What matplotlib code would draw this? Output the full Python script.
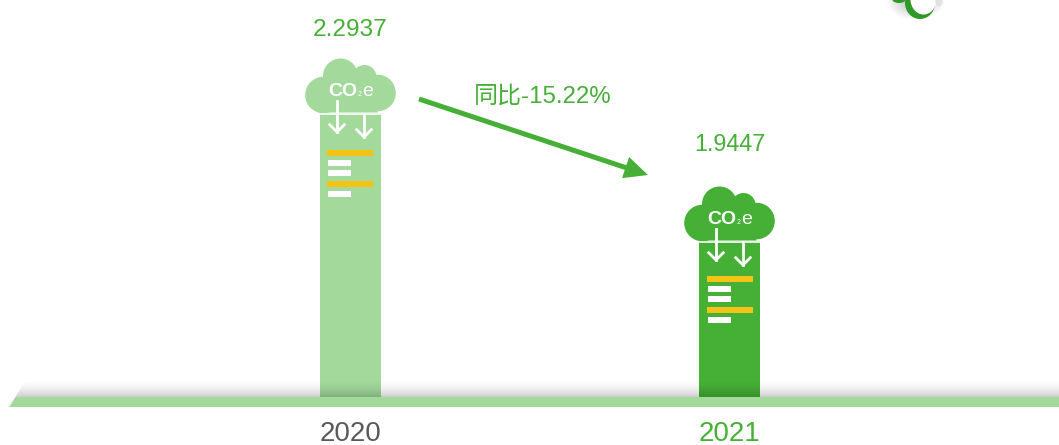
import matplotlib
matplotlib.use('agg')
import matplotlib.pyplot as plt
from matplotlib.patches import Circle, Rectangle, Polygon, Ellipse
import numpy as np

plt.rcParams['font.family'] = ['Liberation Sans', 'Noto Sans CJK SC', 'DejaVu Sans']

years = ['2020', '2021']
values = [2.2937, 1.9447]
change_label = '同比-15.22%'

LIGHT = '#A3D99B'
GREEN = '#45B035'
YELLOW = '#F5C316'
W, H = 1059, 445
BASE_PX = 397
BAR_X = [350.5, 729.5]
PX_PER_UNIT = 366.8
bottom = values[0] - 284 / PX_PER_UNIT
top = bottom + BASE_PX / PX_PER_UNIT

fig = plt.figure(figsize=(W / 100, H / 100), dpi=100)

# pixel coords for all the decoration
deco = fig.add_axes([0, 0, 1, 1], zorder=3)
deco.set_xlim(0, W)
deco.set_ylim(H, 0)
deco.axis('off')

# bars go through a real value axis, truncated like the original
ax = fig.add_axes([0, 1 - BASE_PX / H, 1, BASE_PX / H], zorder=1)
unit = BAR_X[1] - BAR_X[0]
ax.set_xlim(-BAR_X[0] / unit, (W - BAR_X[0]) / unit)
ax.set_ylim(bottom, top)
ax.axis('off')
ax.bar([0, 1], values, bottom=0, width=61 / unit, color=[LIGHT, GREEN])


def cloud(cx, base, color):
    for dx, dy, r in [(-27, -18, 18.3), (-10, -37, 17.5), (14, -36, 12), (27, -20, 18.3)]:
        deco.add_patch(Circle((cx + dx, base + dy), r, fc=color, ec='none'))
    deco.add_patch(Polygon([(cx - 27, base - 0.5), (cx - 27, base - 32), (cx - 10, base - 45),
                            (cx + 13, base - 42), (cx + 27, base - 32), (cx + 27, base - 0.5)],
                           fc=color, ec='none'))
    deco.plot([cx - 30, cx + 30], [base + 0.5, base + 0.5], color='white', lw=1.2)
    for dx, y0, y1, hs in [(-13.5, -12, 19, 7.3), (13.5, 1, 24, 7.3)]:
        deco.plot([cx + dx, cx + dx], [base + y0, base + y1], color='white', lw=2)
        deco.plot([cx + dx - hs, cx + dx, cx + dx + hs], [base + y1 - hs, base + y1, base + y1 - hs],
                  color='white', lw=2)
    deco.text(cx - 7.5, base - 21.5, 'CO', color='white', fontsize=14, fontweight='bold', ha='center', va='center')
    deco.text(cx + 9.5, base - 18.5, '2', color='white', fontsize=5, ha='center', va='center')
    deco.text(cx + 17.5, base - 22, 'e', color='white', fontsize=14, ha='center', va='center')


def stripes(cx, base):
    for y0, y1, x0, x1, c in [(37, 42.7, -23.2, 22.8, YELLOW), (47, 53, -22.5, 0.5, 'white'),
                              (57, 63, -22.5, 0.5, 'white'), (68, 74, -23.2, 22.8, YELLOW),
                              (78, 84, -22.5, 0.5, 'white')]:
        deco.add_patch(Rectangle((cx + x0, base + y0), x1 - x0, y1 - y0, fc=c, ec='none'))


colors = [LIGHT, GREEN]
text_colors = ['#595959', GREEN]
label_y = [30, 144.5]
label_size = [17.6, 16.8]
stripe_shift = [(0, 0), (1, -2)]
for i, (x, v) in enumerate(zip(BAR_X, values)):
    bar_top = BASE_PX - (v - bottom) * PX_PER_UNIT
    cloud(x, bar_top, colors[i])
    stripes(x + stripe_shift[i][0], bar_top + stripe_shift[i][1])
    deco.text(x, label_y[i], str(v), color=GREEN, fontsize=label_size[i], ha='center', va='center')
    deco.text(x, 434, years[i], color=text_colors[i], fontsize=20, ha='center', va='center')

# floor: shadow gradient then the green strip
grad = np.zeros((64, 2, 4))
grad[:, :, 3] = 0.2 * np.linspace(0, 1, 64)[:, None] ** 1.8
im = deco.imshow(grad, extent=(0, W, BASE_PX, 379), aspect='auto', interpolation='bilinear', zorder=2)
clip = Polygon([(15.5, BASE_PX), (26, 379), (W, 379), (W, BASE_PX)], transform=deco.transData, fc='none', ec='none')
deco.add_patch(clip)
im.set_clip_path(clip)
deco.add_patch(Polygon([(9, 407), (15.5, 397), (W, 397), (W, 407)], fc=LIGHT, ec='none', zorder=3))

# trend arrow
deco.annotate('', xy=(648, 175), xytext=(419, 99),
              arrowprops=dict(facecolor=GREEN, edgecolor='none', width=3.6, headwidth=16, headlength=17, shrink=0))
deco.text(543, 97, change_label, color=GREEN, fontsize=17.3, ha='center', va='center')

# clipped leaf at the top right corner
shadow = np.zeros((60, 80, 4))
yy, xx = np.mgrid[0:60, 0:80]
shadow[:, :, 3] = 0.3 * np.clip(1 - np.hypot((xx - 35) / 30.0, (yy - 25) / 20.0), 0, 1)
deco.imshow(shadow, extent=(880, 960, 35, -25), aspect='auto', interpolation='bilinear', zorder=1)
deco.add_patch(Ellipse((899, -1), 14, 8, fc='#2F9A25', ec='none', zorder=2))
deco.add_patch(Ellipse((920, 3), 30, 32, fc='#2F9A25', ec='none', zorder=2))
deco.add_patch(Ellipse((923.5, -1), 26, 31, fc='white', ec='none', zorder=2))
deco.add_patch(Ellipse((939, 1), 7, 11, fc='#E2E2E2', ec='none', zorder=2))
deco.set_xlim(0, W)
deco.set_ylim(H, 0)

fig.savefig('out.png', dpi=100)
